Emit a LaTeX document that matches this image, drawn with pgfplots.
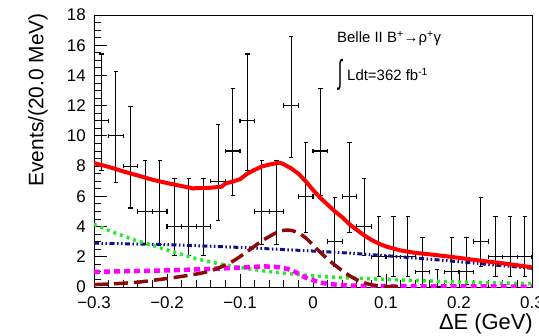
\documentclass[border=0pt]{standalone}
\usepackage{pgfplots}
\pgfplotsset{compat=1.18}
\usepackage{fontspec}
\setmainfont{Liberation Sans}

\definecolor{sigbrown}{RGB}{140,10,10}
\definecolor{bkgnavy}{RGB}{15,15,140}
\definecolor{bkggreen}{RGB}{40,235,40}
\definecolor{bkgmagenta}{RGB}{255,0,255}

\begin{document}
\begin{tikzpicture}
\begin{axis}[
  width=438bp, height=272bp, scale only axis,
  xmin=-0.3, xmax=0.3, ymin=0, ymax=18,
  xtick={-0.3,-0.2,-0.1,0,0.1,0.2,0.3},
  xticklabels={−0.3,−0.2,−0.1,0,0.1,0.2,0.3},
  ytick={0,2,...,18},
  minor x tick num=4, minor y tick num=3,
  tick pos=left, tick align=inside,
  major tick length=13bp, minor tick length=7bp,
  every tick/.style={black, line width=0.9bp},
  axis line style={black, line width=0.9bp},
  /pgf/number format/assume math mode=true,
  ticklabel style={font=\fontsize{17}{17}\selectfont, inner sep=0pt},
  yticklabel style={xshift=-8bp},
  xticklabel style={yshift=-9.5bp},
  clip=true,
]
% data with asymmetric Poisson errors, 20 MeV bins
\addplot[draw=none, mark=none,
  error bars/.cd, x dir=both, x explicit, y dir=both, y explicit,
  error bar style={draw=black, solid, line width=1.1bp},
  error mark=|,
  error mark options={draw=black, solid, line width=1.1bp, mark size=2.2bp}]
coordinates {
  (-0.29,11) += (0.01,4.42) -= (0.01,3.27)
  (-0.27,10) += (0.01,4.27) -= (0.01,3.11)
  (-0.25,8)  += (0.01,3.95) -= (0.01,2.77)
  (-0.23,5)  += (0.01,3.38) -= (0.01,2.16)
  (-0.21,5)  += (0.01,3.38) -= (0.01,2.16)
  (-0.19,4)  += (0.01,3.16) -= (0.01,1.91)
  (-0.17,4)  += (0.01,3.16) -= (0.01,1.91)
  (-0.15,4)  += (0.01,3.16) -= (0.01,1.91)
  (-0.13,7)  += (0.01,3.77) -= (0.01,2.58)
  (-0.11,9)  += (0.01,4.11) -= (0.01,2.94)
  (-0.09,11) += (0.01,4.42) -= (0.01,3.27)
  (-0.07,5)  += (0.01,3.38) -= (0.01,2.16)
  (-0.05,5)  += (0.01,3.38) -= (0.01,2.16)
  (-0.03,12) += (0.01,4.56) -= (0.01,3.42)
  (-0.01,6)  += (0.01,3.58) -= (0.01,2.38)
  (0.01,9)   += (0.01,4.11) -= (0.01,2.94)
  (0.03,3)   += (0.01,2.92) -= (0.01,1.63)
  (0.05,6)   += (0.01,3.58) -= (0.01,2.38)
  (0.07,4)   += (0.01,3.16) -= (0.01,1.91)
  (0.09,2)   += (0.01,2.64) -= (0.01,1.29)
  (0.11,2)   += (0.01,2.64) -= (0.01,1.29)
  (0.13,2)   += (0.01,2.64) -= (0.01,1.29)
  (0.15,1)   += (0.01,2.30) -= (0.01,0.83)
  (0.17,0)   += (0.01,1.15) -= (0.01,0)
  (0.19,1)   += (0.01,2.30) -= (0.01,0.83)
  (0.21,1)   += (0.01,2.30) -= (0.01,0.83)
  (0.23,3)   += (0.01,2.92) -= (0.01,1.63)
  (0.25,2)   += (0.01,2.64) -= (0.01,1.29)
  (0.27,2)   += (0.01,2.64) -= (0.01,1.29)
  (0.29,2)   += (0.01,2.64) -= (0.01,1.29)
};

% continuum-like background (dash-dot)
\addplot[bkgnavy, line width=3bp, smooth,
  dash pattern=on 5bp off 2.5bp on 1.5bp off 2.5bp on 1.5bp off 2.5bp]
coordinates {
  (-0.30,2.90) (-0.20,2.80) (-0.10,2.62) (-0.05,2.50) (0.00,2.38)
  (0.05,2.24) (0.10,2.07) (0.15,1.88) (0.20,1.67) (0.25,1.45) (0.30,1.24)
};

% B background (dotted)
\addplot[bkggreen, line width=3.5bp, smooth, dash pattern=on 3bp off 4bp]
coordinates {
  (-0.30,4.15) (-0.28,3.75) (-0.26,3.38) (-0.24,3.05) (-0.22,2.75)
  (-0.20,2.45) (-0.18,2.15) (-0.16,1.88) (-0.14,1.65) (-0.12,1.46)
  (-0.10,1.30) (-0.08,1.15) (-0.06,1.02) (-0.04,0.92) (-0.02,0.82)
  (0.00,0.74) (0.02,0.67) (0.05,0.60) (0.08,0.54) (0.12,0.47)
  (0.16,0.40) (0.20,0.33) (0.25,0.27) (0.30,0.22)
};

% peaking background (dashed)
\addplot[bkgmagenta, line width=4.5bp, smooth, dash pattern=on 6bp off 4bp]
coordinates {
  (-0.30,1.00) (-0.25,1.05) (-0.20,1.10) (-0.15,1.18) (-0.10,1.28)
  (-0.07,1.36) (-0.05,1.32) (-0.04,1.25) (-0.03,1.12) (-0.02,0.88)
  (-0.01,0.62) (0.00,0.45) (0.01,0.30) (0.02,0.21) (0.04,0.12)
  (0.06,0.08) (0.10,0.05) (0.20,0.04) (0.30,0.03)
};

% signal (long dashes)
\addplot[sigbrown, line width=3.5bp, smooth, dash pattern=on 14bp off 6bp]
coordinates {
  (-0.30,0.16) (-0.27,0.22) (-0.24,0.32) (-0.21,0.50) (-0.18,0.70)
  (-0.15,0.95) (-0.13,1.25) (-0.11,1.70) (-0.09,2.35) (-0.07,3.05)
  (-0.05,3.60) (-0.04,3.75) (-0.03,3.75) (-0.02,3.58) (-0.01,3.25)
  (0.00,2.78) (0.01,2.30) (0.02,1.85) (0.03,1.45) (0.04,1.08)
  (0.05,0.75) (0.06,0.48) (0.07,0.28) (0.08,0.15) (0.09,0.07)
  (0.10,0.03) (0.12,0.01)
};

% total fit
\addplot[red, line width=4bp, line join=round]
coordinates {
  (-0.300,8.20) (-0.280,7.95) (-0.260,7.65) (-0.240,7.38) (-0.220,7.10)
  (-0.200,6.88) (-0.180,6.68) (-0.165,6.53) (-0.140,6.57) (-0.125,6.64)
  (-0.120,6.85) (-0.110,6.98) (-0.100,7.13) (-0.090,7.50) (-0.080,7.75)
  (-0.070,7.98) (-0.060,8.10) (-0.050,8.20) (-0.045,8.22) (-0.040,8.12)
  (-0.030,7.85) (-0.020,7.50) (-0.010,7.00) (0.000,6.42) (0.010,5.90)
  (0.020,5.45) (0.030,5.00) (0.040,4.62) (0.050,4.15) (0.060,3.78)
  (0.070,3.42) (0.080,3.12) (0.090,2.88) (0.100,2.68) (0.120,2.42)
  (0.140,2.26) (0.160,2.16) (0.180,2.05) (0.200,1.93) (0.220,1.80)
  (0.240,1.68) (0.260,1.57) (0.280,1.44) (0.300,1.30)
};

\coordinate (bl) at (rel axis cs:0,0);
\coordinate (tl) at (rel axis cs:0,1);
\coordinate (br) at (rel axis cs:1,0);
\coordinate (tr) at (rel axis cs:1,1);
\end{axis}

% axis titles
\node[rotate=90, anchor=base east, inner sep=0pt, font=\fontsize{21}{21}\selectfont]
  at ([shift={(-50.7bp,2bp)}]tl) {Events/(20.0 MeV)};
\node[anchor=base east, inner sep=0pt, font=\fontsize{22}{22}\selectfont]
  at ([shift={(1bp,-42bp)}]br) {ΔE (GeV)};

% annotation
\node[anchor=base west, inner sep=0pt, font=\fontsize{15}{15}\selectfont]
  at ([shift={(243bp,244bp)}]bl) {Belle II B\textsuperscript{+}→ρ\textsuperscript{+}γ};
\node[inner sep=0pt, font=\fontsize{15}{15}\selectfont]
  at ([shift={(246bp,212.5bp)}]bl) {\scalebox{1.1}[2.2]{∫}};
\node[anchor=base west, inner sep=0pt, font=\fontsize{15}{15}\selectfont]
  at ([shift={(253bp,206bp)}]bl) {Ldt=362 fb\textsuperscript{-1}};

\pgfresetboundingbox
\path[use as bounding box] ([shift={(-94bp,-48bp)}]bl) rectangle ([shift={(7bp,15bp)}]tr);
\end{tikzpicture}
\end{document}
